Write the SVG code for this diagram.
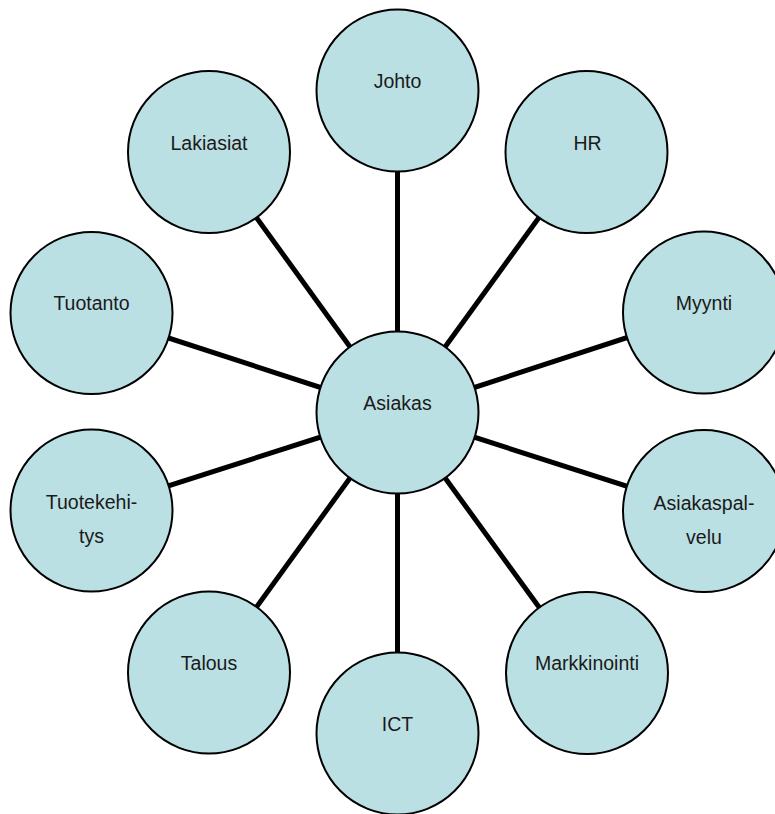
<svg xmlns="http://www.w3.org/2000/svg" width="775" height="814" viewBox="0 0 775 814">
<style>
.n{fill:#BBE0E3;stroke:#000;stroke-width:2}
.t{font-family:"Liberation Sans",Arial,sans-serif;font-size:19.5px;fill:#1a1a1a;text-anchor:middle}
.c{stroke:#000;stroke-width:5;fill:none}
</style>
<rect width="775" height="814" fill="#fff"/>
<g id="connectors">
<line class="c" x1="397.5" y1="412.5" x2="397.5" y2="90.5"/>
<line class="c" x1="397.5" y1="412.5" x2="586.5" y2="152"/>
<line class="c" x1="397.5" y1="412.5" x2="704" y2="312.5"/>
<line class="c" x1="397.5" y1="412.5" x2="704" y2="511"/>
<line class="c" x1="397.5" y1="412.5" x2="587" y2="673"/>
<line class="c" x1="397.5" y1="412.5" x2="397.5" y2="733.5"/>
<line class="c" x1="397.5" y1="412.5" x2="209" y2="672.5"/>
<line class="c" x1="397.5" y1="412.5" x2="91.5" y2="510.5"/>
<line class="c" x1="397.5" y1="412.5" x2="91.5" y2="313"/>
<line class="c" x1="397.5" y1="412.5" x2="209" y2="152"/>
</g>
<g id="johto"><circle class="n" cx="397.5" cy="90.5" r="81"/><text class="t" x="397.5" y="88">Johto</text></g>
<g id="hr"><circle class="n" cx="586.5" cy="152" r="81"/><text class="t" x="587.5" y="149.5">HR</text></g>
<g id="myynti"><circle class="n" cx="704" cy="312.5" r="81"/><text class="t" x="704" y="310">Myynti</text></g>
<g id="asiakaspalvelu"><circle class="n" cx="704" cy="511" r="81"/><text class="t" x="704" y="509.5">Asiakaspal-</text><text class="t" x="704" y="543.5">velu</text></g>
<g id="markkinointi"><circle class="n" cx="587" cy="673" r="81"/><text class="t" x="587" y="670">Markkinointi</text></g>
<g id="ict"><circle class="n" cx="397.5" cy="733.5" r="81"/><text class="t" x="397.5" y="730.5">ICT</text></g>
<g id="talous"><circle class="n" cx="209" cy="672.5" r="81"/><text class="t" x="209" y="669.5">Talous</text></g>
<g id="tuotekehitys"><circle class="n" cx="91.5" cy="510.5" r="81"/><text class="t" x="91.5" y="509">Tuotekehi-</text><text class="t" x="91.5" y="543">tys</text></g>
<g id="tuotanto"><circle class="n" cx="91.5" cy="313" r="81"/><text class="t" x="91.5" y="310">Tuotanto</text></g>
<g id="lakiasiat"><circle class="n" cx="209" cy="152" r="81"/><text class="t" x="209" y="149.5">Lakiasiat</text></g>
<g id="asiakas"><circle class="n" cx="397.5" cy="412.5" r="81"/><text class="t" x="397.5" y="409.5">Asiakas</text></g>
</svg>
